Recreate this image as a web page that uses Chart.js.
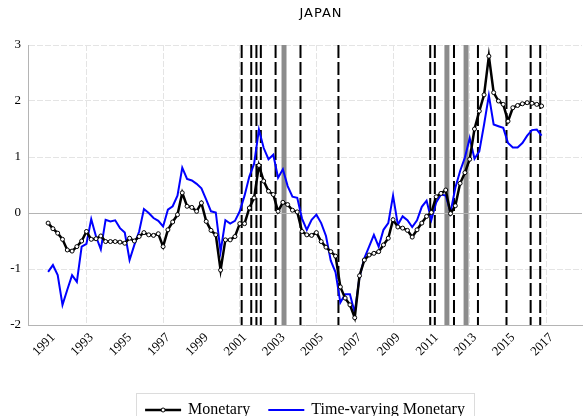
<!DOCTYPE html>
<html>
<head>
<meta charset="utf-8">
<script src="https://cdn.jsdelivr.net/npm/chart.js@4/dist/chart.umd.min.js"></script>
<style>
  html, body { margin: 0; padding: 0; background: #fff; }
  #wrap { width: 587px; height: 416px; }
</style>
</head>
<body>
<div id="wrap"><canvas id="grafico" width="587" height="416"></canvas></div>
<script>
// Japón: choque monetario vs. monetario variable en el tiempo, trimestral 1991Q1-2016Q4.
const ANIO_INICIO = 1991;

const monetary = [
  -0.18, -0.28, -0.36, -0.47, -0.66, -0.68, -0.60, -0.50,
  -0.33, -0.47, -0.46, -0.41, -0.51, -0.51, -0.51, -0.52,
  -0.54, -0.45, -0.50, -0.42, -0.35, -0.39, -0.40, -0.37,
  -0.60, -0.30, -0.16, -0.03,  0.36,  0.12,  0.10,  0.03,
   0.18, -0.15, -0.31, -0.39, -1.02, -0.48, -0.48, -0.42,
  -0.19, -0.19,  0.09,  0.27,  0.85,  0.57,  0.39,  0.33,
   0.03,  0.19,  0.15,  0.05,  0.02, -0.33, -0.39, -0.40,
  -0.35, -0.51, -0.61, -0.69, -0.77, -1.32, -1.52, -1.64,
  -1.87, -1.12, -0.84, -0.75, -0.72, -0.69, -0.57, -0.45,
  -0.12, -0.25, -0.27, -0.31, -0.43, -0.30, -0.18, -0.06,
   0.01,  0.29,  0.35,  0.41, -0.01,  0.13,  0.53,  0.72,
   0.96,  1.50,  1.82,  2.11,  2.80,  2.15,  2.00,  1.94,
   1.64,  1.88,  1.92,  1.95,  1.97,  1.96,  1.94,  1.91
];

const timeVarying = [
  -1.05, -0.93, -1.11, -1.64, -1.37, -1.11, -1.23, -0.60,
  -0.55, -0.11, -0.42, -0.65, -0.12, -0.15, -0.13, -0.27,
  -0.35, -0.84, -0.57, -0.33,  0.07,  0.00, -0.09, -0.14,
  -0.24,  0.06,  0.12,  0.31,  0.81,  0.61,  0.58,  0.52,
   0.44,  0.24,  0.03,  0.01, -0.69, -0.13, -0.19, -0.14,
   0.03,  0.31,  0.65,  0.88,  1.49,  1.16,  0.96,  1.04,
   0.63,  0.78,  0.48,  0.29,  0.27, -0.10, -0.30, -0.12,
  -0.03, -0.18, -0.41, -0.85, -1.06, -1.60, -1.45, -1.45,
  -1.78, -1.14, -0.81, -0.60, -0.39, -0.60, -0.30, -0.18,
   0.31, -0.21, -0.06, -0.13, -0.25, -0.13,  0.11,  0.22,
  -0.12,  0.19,  0.33,  0.31,  0.01,  0.45,  0.75,  0.99,
   1.34,  0.97,  1.10,  1.58,  2.10,  1.58,  1.55,  1.52,
   1.25,  1.17,  1.17,  1.25,  1.38,  1.48,  1.49,  1.38
];

// Etiquetas del eje X (cada dos años) y ticks del eje Y
const aniosEje = [1991, 1993, 1995, 1997, 1999, 2001, 2003, 2005, 2007, 2009, 2011, 2013, 2015, 2017];
const ticksY = [-2, -1, 0, 1, 2, 3];

// Fechas de anuncios (líneas punteadas) y tramos sombreados
const eventos = [2001.10, 2001.60, 2001.87, 2002.10, 2002.87, 2004.17, 2006.15,
                 2010.94, 2011.18, 2012.18, 2013.43, 2014.92, 2016.18, 2016.68];
const bandasIni = [2003.18, 2011.68, 2012.68];
const bandasFin = [2003.44, 2011.94, 2012.94];

// Eje temporal: año decimal de cada trimestre
const fechas = monetary.map((_, i) => ANIO_INICIO + i / 4);

const SERIF = "'Liberation Serif', 'Times New Roman', serif";

// Fondo: bandas grises, líneas de eventos y línea del cero
const marcasFondo = {
  id: 'marcasFondo',
  beforeDatasetsDraw(chart) {
    const { ctx, chartArea: a, scales: { x, y } } = chart;
    ctx.save();
    ctx.fillStyle = '#8c8c8c';
    bandasIni.forEach((ini, k) => {
      const x0 = x.getPixelForValue(ini), x1 = x.getPixelForValue(bandasFin[k]);
      ctx.fillRect(x0, a.top, x1 - x0, a.bottom - a.top);
    });
    // cero
    ctx.strokeStyle = '#b4b4b4';
    ctx.lineWidth = 1;
    ctx.beginPath();
    const y0 = Math.round(y.getPixelForValue(0)) + 0.5;
    ctx.moveTo(a.left, y0); ctx.lineTo(a.right, y0);
    ctx.stroke();
    // eventos
    ctx.strokeStyle = '#000';
    ctx.lineWidth = 2;
    ctx.setLineDash([13, 4]);
    eventos.forEach(ev => {
      const px = x.getPixelForValue(ev);
      ctx.beginPath();
      ctx.moveTo(px, a.top); ctx.lineTo(px, a.bottom);
      ctx.stroke();
    });
    ctx.restore();
  }
};

// Título y leyenda dibujados a mano (estilo del gráfico original)
const tituloYLeyenda = {
  id: 'tituloYLeyenda',
  afterDraw(chart) {
    const { ctx, chartArea: a } = chart;
    const cx = (a.left + a.right) / 2;
    ctx.save();
    ctx.fillStyle = '#000';
    ctx.font = "13px 'DejaVu Sans', sans-serif";
    ctx.textAlign = 'center';
    ctx.textBaseline = 'middle';
    if ('letterSpacing' in ctx) ctx.letterSpacing = '1px';
    ctx.fillText('JAPAN', cx + 16, 14);
    if ('letterSpacing' in ctx) ctx.letterSpacing = '0px';

    // leyenda
    ctx.font = '16px ' + SERIF;
    const ds = chart.data.datasets;
    const muestra = 36, sepTexto = 7, sepItem = 18, padH = 9;
    const anchos = ds.map(d => ctx.measureText(d.label).width);
    const total = anchos.reduce((s, w) => s + muestra + sepTexto + w, 0) + sepItem * (ds.length - 1);
    const bx0 = cx - total / 2 - padH, bx1 = cx + total / 2 + padH;
    const by0 = 393.5, yl = 410;
    ctx.strokeStyle = '#dcdcdc';
    ctx.lineWidth = 1;
    ctx.strokeRect(Math.round(bx0) + 0.5, by0, Math.round(bx1 - bx0), 40);
    let px = cx - total / 2;
    ds.forEach((d, k) => {
      ctx.strokeStyle = d.borderColor;
      ctx.lineWidth = d.borderWidth;
      ctx.beginPath();
      ctx.moveTo(px, yl); ctx.lineTo(px + muestra, yl);
      ctx.stroke();
      if (d.pointRadius > 0) {
        ctx.beginPath();
        ctx.arc(px + muestra / 2, yl, d.pointRadius, 0, Math.PI * 2);
        ctx.fillStyle = d.pointBackgroundColor;
        ctx.fill();
        ctx.lineWidth = d.pointBorderWidth;
        ctx.strokeStyle = d.pointBorderColor;
        ctx.stroke();
      }
      ctx.fillStyle = '#000';
      ctx.textAlign = 'left';
      ctx.fillText(d.label, px + muestra + sepTexto, yl);
      px += muestra + sepTexto + anchos[k] + sepItem;
    });
    ctx.restore();
  }
};

new Chart(document.getElementById('grafico'), {
  type: 'line',
  data: {
    datasets: [
      { label: 'Monetary', data: fechas.map((f, i) => ({ x: f, y: monetary[i] })),
        borderColor: '#000000', borderWidth: 2.5, tension: 0,
        pointRadius: 2, pointBackgroundColor: '#ffffff', pointBorderColor: '#000000', pointBorderWidth: 1 },
      { label: 'Time-varying Monetary', data: fechas.map((f, i) => ({ x: f, y: timeVarying[i] })),
        borderColor: '#0000ff', borderWidth: 2, tension: 0, pointRadius: 0 },
    ],
  },
  options: {
    responsive: false, animation: false, devicePixelRatio: 1,
    layout: { padding: { top: 45, right: 1, left: 0, bottom: 0 } },
    plugins: { legend: { display: false }, title: { display: false }, tooltip: { enabled: false } },
    scales: {
      x: {
        type: 'linear', min: 1989.95, max: 2018.86,
        afterBuildTicks: s => { s.ticks = aniosEje.map(v => ({ value: v })); },
        afterFit: s => { s.height = 91; },
        ticks: { maxRotation: 45, minRotation: 45, padding: 5, labelOffset: 5, color: '#000',
                 font: { family: SERIF, size: 13 }, callback: v => String(v) },
        grid: { drawTicks: false, lineWidth: 1,
                color: c => (c.tick && (c.tick.value - 1993) % 4 === 0) ? '#e4e4e4' : 'rgba(0,0,0,0)' },
        border: { display: true, color: '#b4b4b4', dash: [6, 2] },
      },
      y: {
        min: -2, max: 3,
        afterBuildTicks: s => { s.ticks = ticksY.map(v => ({ value: v })); },
        afterFit: s => { s.width = 28; },
        ticks: { padding: 7, color: '#000', font: { family: SERIF, size: 13 } },
        grid: { drawTicks: false, lineWidth: 1,
                color: c => (c.tick && c.tick.value !== 0 && c.tick.value !== -2) ? '#e4e4e4' : 'rgba(0,0,0,0)' },
        border: { display: true, color: '#b4b4b4', dash: [6, 2] },
      },
    },
  },
  plugins: [marcasFondo, tituloYLeyenda],
});
</script>
</body>
</html>
